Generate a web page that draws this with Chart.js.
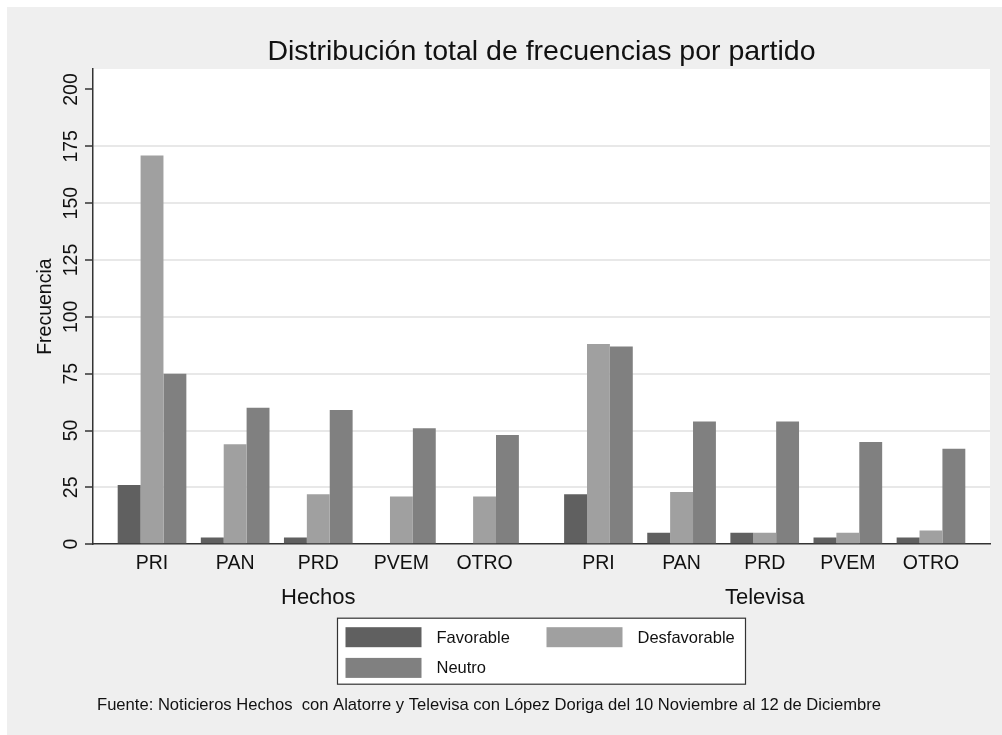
<!DOCTYPE html>
<html lang="es">
<head>
<meta charset="utf-8">
<title>Distribución total de frecuencias por partido</title>
<script src="https://cdn.jsdelivr.net/npm/chart.js@4.4.1/dist/chart.umd.min.js"></script>
<style>
  html, body { margin: 0; padding: 0; background: #fff; }
  #wrap { width: 1002px; height: 735px; position: relative; }
</style>
</head>
<body>
<div id="wrap"><canvas id="grafica"></canvas></div>
<script>
// datos de la gráfica
const partidos = ['PRI', 'PAN', 'PRD', 'PVEM', 'OTRO'];
const noticieros = ['Hechos', 'Televisa'];
const favorable = [26, 3, 3, 0, 0, 22, 5, 5, 3, 3];
const desfavorable = [171, 44, 22, 21, 21, 88, 23, 5, 5, 6];
const neutro = [75, 60, 59, 51, 48, 87, 54, 54, 45, 42];
const yTicks = [0, 25, 50, 75, 100, 125, 150, 175, 200];
const titulo = 'Distribución total de frecuencias por partido';
const nota = 'Fuente: Noticieros Hechos  con Alatorre y Televisa con López Doriga del 10 Noviembre al 12 de Diciembre';

const FUENTE = "'Liberation Sans', Arial, Helvetica, sans-serif";
const TEXTO = '#111';
const EJE = '#333';

// posición de cada partido dentro de su noticiero (hueco extra entre grupos)
const HUECO = 0.37;
const posiciones = [];
noticieros.forEach((n, g) => {
    partidos.forEach((p, i) => posiciones.push(1 + i + g * (partidos.length + HUECO)));
});
const etiquetas = noticieros.flatMap(() => partidos);
const centros = noticieros.map((n, g) => 1 + (partidos.length - 1) / 2 + g * (partidos.length + HUECO));
const puntos = vals => vals.map((v, i) => ({ x: posiciones[i], y: v }));

const X_MIN = 0.29;
const X_MAX = 11.08;

// fondo, título, leyenda y nota
const decoracion = {
    id: 'decoracion',
    beforeDraw(chart) {
        const { ctx, width, height, chartArea: a } = chart;
        ctx.save();
        ctx.fillStyle = '#fff';
        ctx.fillRect(0, 0, width, height);
        ctx.fillStyle = '#efefef';
        ctx.fillRect(7, 7, width - 7, height - 7);
        ctx.fillStyle = '#fff';
        ctx.fillRect(a.left, a.top, a.right - a.left, a.bottom - a.top);
        ctx.restore();
    },
    afterDraw(chart) {
        const { ctx, chartArea: a } = chart;
        const cx = (a.left + a.right) / 2;
        ctx.save();

        // título
        ctx.fillStyle = TEXTO;
        ctx.font = '28.5px ' + FUENTE;
        ctx.textAlign = 'center';
        ctx.textBaseline = 'alphabetic';
        ctx.fillText(titulo, cx, a.top - 9);

        // leyenda
        const lw = 408, lh = 66;
        const lx = cx - lw / 2, ly = a.bottom + 74;
        ctx.fillStyle = '#fff';
        ctx.fillRect(lx, ly, lw, lh);
        ctx.strokeStyle = EJE;
        ctx.lineWidth = 1.2;
        ctx.strokeRect(lx, ly, lw, lh);
        ctx.font = '16.5px ' + FUENTE;
        ctx.textAlign = 'left';
        ctx.textBaseline = 'middle';
        chart.data.datasets.forEach((ds, i) => {
            const col = i % 2, fila = Math.floor(i / 2);
            const sx = lx + 8 + col * 201;
            const sy = ly + 9 + fila * 30.7;
            ctx.fillStyle = ds.backgroundColor;
            ctx.fillRect(sx, sy, 76, 20);
            ctx.fillStyle = TEXTO;
            ctx.fillText(ds.label, sx + 91, sy + 11);
        });

        // nota
        ctx.font = '16.6px ' + FUENTE;
        ctx.textBaseline = 'alphabetic';
        ctx.fillText(nota, a.left + 4, a.bottom + 166);
        ctx.restore();
    }
};

new Chart(document.getElementById('grafica'), {
    type: 'bar',
    data: {
        datasets: [
            { label: 'Favorable', data: puntos(favorable), backgroundColor: '#606060' },
            { label: 'Desfavorable', data: puntos(desfavorable), backgroundColor: '#a0a0a0' },
            { label: 'Neutro', data: puntos(neutro), backgroundColor: '#808080' }
        ]
    },
    options: {
        responsive: true,
        maintainAspectRatio: false,
        animation: false,
        datasets: {
            bar: { barPercentage: 1, categoryPercentage: 0.826, borderWidth: 0 }
        },
        layout: { padding: { top: 69, right: 12, bottom: 123, left: 0 } },
        plugins: {
            legend: { display: false },
            tooltip: { enabled: false },
            title: { display: false }
        },
        scales: {
            x: {
                type: 'linear',
                min: X_MIN,
                max: X_MAX,
                offset: false,
                z: 1,
                afterBuildTicks: s => { s.ticks = posiciones.map(v => ({ value: v })); },
                ticks: {
                    autoSkip: false,
                    maxRotation: 0,
                    padding: 8,
                    color: TEXTO,
                    font: { family: FUENTE, size: 19.5 },
                    callback: (v, i) => etiquetas[i]
                },
                grid: { display: false, drawTicks: false, offset: false },
                border: { color: EJE, width: 1.5 }
            },
            grupos: {
                type: 'linear',
                axis: 'x',
                position: 'bottom',
                weight: 1,
                min: X_MIN,
                max: X_MAX,
                offset: false,
                afterBuildTicks: s => { s.ticks = centros.map(v => ({ value: v })); },
                ticks: {
                    autoSkip: false,
                    maxRotation: 0,
                    padding: 1,
                    color: TEXTO,
                    font: { family: FUENTE, size: 22 },
                    callback: (v, i) => noticieros[i]
                },
                grid: { display: false, drawTicks: false, offset: false },
                border: { display: false }
            },
            y: {
                min: 0,
                max: 209,
                afterBuildTicks: s => { s.ticks = yTicks.map(v => ({ value: v })); },
                afterFit: s => { s.width = 93; },
                ticks: {
                    minRotation: 90,
                    maxRotation: 90,
                    crossAlign: 'center',
                    padding: -3,
                    color: TEXTO,
                    font: { family: FUENTE, size: 19.5 }
                },
                grid: {
                    color: ctx => (ctx.tick && (ctx.tick.value === 0 || ctx.tick.value === 200)) ? 'rgba(0,0,0,0)' : '#e8e8e8',
                    lineWidth: 2,
                    tickColor: EJE,
                    tickLength: 8,
                    tickWidth: 1.5
                },
                border: { color: EJE, width: 1.5 },
                title: {
                    display: true,
                    text: 'Frecuencia',
                    color: TEXTO,
                    font: { family: FUENTE, size: 19.5 },
                    padding: { top: 34, bottom: 0 }
                }
            }
        }
    },
    plugins: [decoracion]
});
</script>
</body>
</html>
